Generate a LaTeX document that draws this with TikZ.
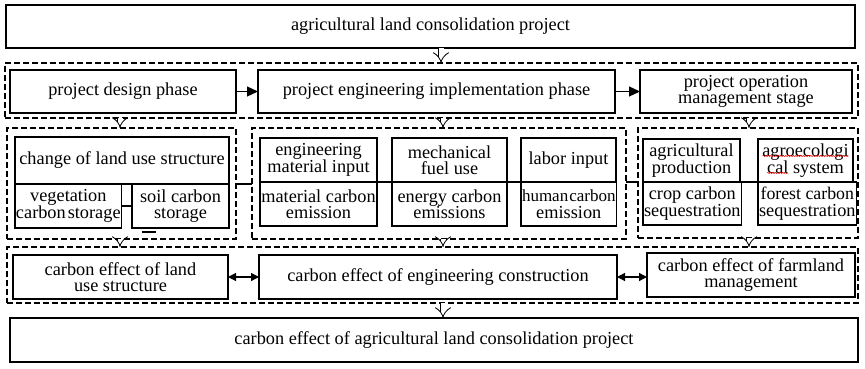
\documentclass[tikz,border=0pt]{standalone}
\usepackage{fontspec}
\setmainfont{Liberation Serif}
\usetikzlibrary{arrows.meta,decorations.pathmorphing}
\tikzset{
  cell/.style={draw, line width=1.2pt, inner sep=1pt, outer sep=0pt,
               align=center, anchor=north west,
               font=\fontsize{18.3}{16.5}\selectfont},
  group/.style={draw, line width=1.2pt, dash pattern=on 6pt off 3pt,
                inner sep=0pt, outer sep=0pt, anchor=north west},
  sz/.style 2 args={minimum width=#1pt, minimum height=#2pt},
  arr/.style={-{Triangle[length=11pt,width=10pt]}, line width=1.2pt},
  darr/.style={{Triangle[length=8pt,width=8pt]}-{Triangle[length=8pt,width=8pt]},
               line width=1.2pt},
  hollow/.style={double, double distance=5pt, line width=0.8pt, -{Implies}},
  wavy/.style={red, line width=0.5pt, decorate,
               decoration={snake, amplitude=0.6pt, segment length=2.5pt}}}

\begin{document}
\begin{tikzpicture}[x=1pt, y=-1pt]
    \useasboundingbox (0,0) rectangle (865,369);
    \coordinate (xl) at (120,0);
    \coordinate (xm) at (443,0);
    \coordinate (xr) at (749,0);
    \coordinate (xt) at (441,0);
    % dashed groups
    \node[group, sz={853}{55}] (phases) at (5,63) {};
    \node[group, sz={229}{111}] (landgrp) at (7,128) {};
    \node[group, sz={374}{111}] (enggrp) at (252,128) {};
    \node[group, sz={220}{110}] (farmgrp) at (638,128) {};
    \node[group, sz={851}{56}] (effects) at (7,247) {};
    % boxes
    \node[cell, sz={849}{43}] (project) at (6,5)
      {agricultural land consolidation project};
    \node[cell, sz={226}{43}] (design) at (10,70) {project design phase};
    \node[cell, sz={357}{43}] (impl) at (258,70)
      {project engineering implementation phase};
    \node[cell, sz={212}{43}] (oper) at (640,70)
      {project operation\\management stage};
    \node[cell, sz={214}{47}] (change) at (15,137) {change of land use structure};
    \node[cell, sz={103}{44}] (veg) at (change.south west)
      {vegetation\\carbon\hspace{2pt}storage};
    \node[cell, sz={97}{44}] (soil) at (132,184) {soil carbon\\storage};
    \node[cell, sz={117}{44}] (matin) at (260,138) {engineering\\material input};
    \node[cell, sz={117}{44}] (matout) at (matin.south west)
      {material carbon\\emission};
    \node[cell, sz={115}{44}] (fuelin) at (392,138) {mechanical\\fuel use};
    \node[cell, sz={115}{44}] (fuelout) at (fuelin.south west)
      {energy carbon\\emissions};
    \node[cell, sz={95}{44}] (laborin) at (521,138) {labor input};
    \node[cell, sz={95}{44}] (laborout) at (laborin.south west)
      {\fontsize{17}{16.5}\selectfont human\hspace{1pt}carbon\\emission};
    \node[cell, sz={97}{43}] (agriin) at (643,139) {agricultural\\production};
    \node[cell, sz={97}{43}] (agriout) at (agriin.south west)
      {crop carbon\\sequestration};
    \node[cell, sz={95}{43}] (ecoin) at (758,139) {agroecologi\\cal system};
    \node[cell, sz={95}{43}] (ecoout) at (ecoin.south west)
      {\fontsize{17.8}{16.5}\selectfont forest carbon\\sequestration};
    \node[cell, sz={215}{44}] (landc) at (13,255)
      {carbon effect of land\\use structure};
    \node[cell, sz={358}{44}] (engc) at (259,255)
      {carbon effect of engineering construction};
    \node[cell, sz={208}{44}] (farmc) at (647,253)
      {carbon effect of farmland\\management};
    \node[cell, sz={848}{44}] (result) at (10,318)
      {carbon effect of agricultural land consolidation project};
    % spell-check marks
    \draw[wavy] ([shift={(4.5,17)}]ecoin.north west) -- ++(86,0);
    \draw[wavy] ([shift={(9,34)}]ecoin.north west) -- ++(21,0);
    % connectors
    \draw[arr] (design) -- (impl);
    \draw[arr] (impl) -- (oper);
    \draw[darr] (landc) -- (engc);
    \draw[darr] (engc.east) -- (engc.east -| farmc.west);
    \draw[line width=1.2pt] (veg.east) -- (soil.west);
    \draw[line width=1.2pt] ([shift={(10,4)}]soil.south west) -- ++(14,0);
    \draw[line width=1.2pt] (landgrp.east |- change.south) -- (enggrp.west |- change.south);
    \draw[line width=1.2pt] (matin.south east) -- (fuelin.south west);
    \draw[line width=1.2pt] (fuelin.south east) -- (laborin.south west);
    \draw[line width=1.2pt] (enggrp.east |- laborin.south) -- (farmgrp.west |- laborin.south);
    \draw[line width=1.2pt] (agriin.south east) -- (ecoin.south west);
    \draw[hollow] (project.south -| xt) -- (phases.north -| xt);
    \draw[hollow] (phases.south -| xl) -- (landgrp.north -| xl);
    \draw[hollow] (phases.south -| xm) -- (enggrp.north -| xm);
    \draw[hollow] (phases.south -| xr) -- (farmgrp.north -| xr);
    \draw[hollow] (landgrp.south -| xl) -- (effects.north -| xl);
    \draw[hollow] (enggrp.south -| xm) -- (effects.north -| xm);
    \draw[hollow] (farmgrp.south -| xr) -- (effects.north -| xr);
    \draw[hollow] (effects.south -| xm) -- (result.north -| xm);
\end{tikzpicture}
\end{document}
